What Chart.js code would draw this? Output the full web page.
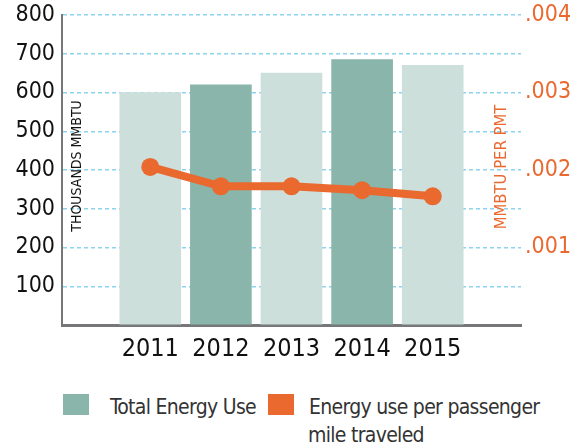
<!DOCTYPE html>
<html>
<head>
<meta charset="utf-8">
<script src="https://cdn.jsdelivr.net/npm/chart.js@4/dist/chart.umd.min.js"></script>
<style>
  html, body { margin: 0; padding: 0; background: #fff; }
  #wrap { position: relative; width: 578px; height: 448px; overflow: hidden;
    font-family: "DejaVu Sans Condensed", "DejaVu Sans", sans-serif; }
  #box { position: absolute; left: 0; top: 0; width: 578px; height: 370px; }
  .sw { position: absolute; width: 26px; height: 21px; }
  .lt { position: absolute; font-size: 21px; color: #333; white-space: nowrap; letter-spacing: -0.7px; }
</style>
</head>
<body>
<div id="wrap">
  <div id="box"><canvas id="chart"></canvas></div>
  <div class="sw" id="sw1" style="left:63px; top:394px;"></div>
  <div class="lt" id="lt1" style="left:110px; top:392px; line-height:30px;"></div>
  <div class="sw" id="sw2" style="left:268px; top:394px;"></div>
  <div class="lt" id="lt2" style="left:309px; top:393px; line-height:28px;"></div>
</div>
<script>
const FONT = '"DejaVu Sans Condensed", "DejaVu Sans", sans-serif';

// data
const years = [2011, 2012, 2013, 2014, 2015];
const totalEnergy = [600, 620, 650, 685, 670];          // thousands MMBTU
const energyPerPmt = [0.00204, 0.00179, 0.00179, 0.00174, 0.00166];
const leftTicks = [100, 200, 300, 400, 500, 600, 700, 800];
const rightTicks = [0.001, 0.002, 0.003, 0.004];

const barColors = ['#cddfdb', '#89b5ab', '#cddfdb', '#89b5ab', '#cddfdb'];
const orange = '#e9692f';
const labels = ['Total Energy Use', 'Energy use per passenger\nmile traveled'];

// html legend
document.getElementById('sw1').style.background = '#89b5ab';
document.getElementById('sw2').style.background = orange;
document.getElementById('lt1').textContent = labels[0];
const lt2 = document.getElementById('lt2');
labels[1].split('\n').forEach((s, i) => {
  const d = document.createElement('div');
  d.textContent = s;
  if (i > 0) d.style.marginLeft = '-1px';
  lt2.appendChild(d);
});

// rotated axis titles sitting inside the plot
const axisTitles = {
  id: 'axisTitles',
  afterDraw(chart) {
    const { ctx, chartArea } = chart;
    const cy = chartArea.top + 151;
    ctx.save();
    ctx.textAlign = 'center';
    ctx.textBaseline = 'middle';
    ctx.translate(chartArea.left + 15, cy);
    ctx.rotate(-Math.PI / 2);
    ctx.font = '14px ' + FONT;
    ctx.fillStyle = '#111';
    ctx.fillText('THOUSANDS MMBTU', 0, 0);
    ctx.restore();

    ctx.save();
    ctx.textAlign = 'center';
    ctx.textBaseline = 'middle';
    ctx.translate(chartArea.right - 19, cy + 1);
    ctx.rotate(-Math.PI / 2);
    ctx.font = '16.5px ' + FONT;
    ctx.fillStyle = orange;
    ctx.fillText('MMBTU PER PMT', 0, 0);
    ctx.restore();
  }
};

new Chart(document.getElementById('chart'), {
  type: 'bar',
  data: {
    datasets: [
      {
        type: 'line',
        label: labels[1],
        data: years.map((y, i) => ({ x: y, y: energyPerPmt[i] })),
        yAxisID: 'y2',
        borderColor: orange,
        backgroundColor: orange,
        borderWidth: 8,
        pointRadius: 9,
        pointBackgroundColor: orange,
        pointBorderWidth: 0,
        tension: 0,
        order: 0
      },
      {
        label: labels[0],
        data: years.map((y, i) => ({ x: y, y: totalEnergy[i] })),
        yAxisID: 'y',
        backgroundColor: barColors,
        barThickness: 61,
        order: 1
      }
    ]
  },
  options: {
    responsive: true,
    maintainAspectRatio: false,
    animation: false,
    layout: { padding: { top: 15, bottom: 0, left: 0, right: 0 } },
    plugins: {
      legend: { display: false },
      tooltip: { enabled: false }
    },
    scales: {
      x: {
        type: 'linear',
        min: 2009.75,
        max: 2016.25,
        offset: false,
        afterBuildTicks: (s) => { s.ticks = years.map(v => ({ value: v })); },
        afterFit: (s) => { s.height = 45; },
        grid: { display: false, drawTicks: false, offset: false },
        border: { color: '#77777a', width: 3 },
        ticks: {
          color: '#111',
          font: { family: FONT, size: 25 },
          padding: 9,
          maxRotation: 0,
          autoSkip: false,
          callback: (v) => String(v)
        }
      },
      y: {
        position: 'left',
        min: 0,
        max: 800,
        afterBuildTicks: (s) => { s.ticks = [0].concat(leftTicks).map(v => ({ value: v })); },
        afterFit: (s) => { s.width = 62; s.paddingTop = 0; s.paddingBottom = 0; },
        grid: {
          drawTicks: false,
          color: (c) => c.tick && c.tick.value === 0 ? 'rgba(0,0,0,0)' : '#8dd3f0',
          lineWidth: 1.5
        },
        border: { color: '#77777a', width: 2, dash: [4, 3] },
        ticks: {
          color: '#111',
          font: { family: FONT, size: 23 },
          padding: 7,
          callback: (v) => v === 0 ? '' : String(v)
        }
      },
      y2: {
        position: 'right',
        min: 0,
        max: 0.004,
        afterBuildTicks: (s) => { s.ticks = [0].concat(rightTicks).map(v => ({ value: v })); },
        afterFit: (s) => { s.width = 57; s.paddingTop = 0; s.paddingBottom = 0; },
        grid: { drawOnChartArea: false, drawTicks: false },
        border: { display: false },
        ticks: {
          color: orange,
          font: { family: FONT, size: 23 },
          padding: 4,
          callback: (v) => v === 0 ? '' : v.toFixed(3).replace(/^0/, '')
        }
      }
    }
  },
  plugins: [axisTitles]
});
</script>
</body>
</html>
